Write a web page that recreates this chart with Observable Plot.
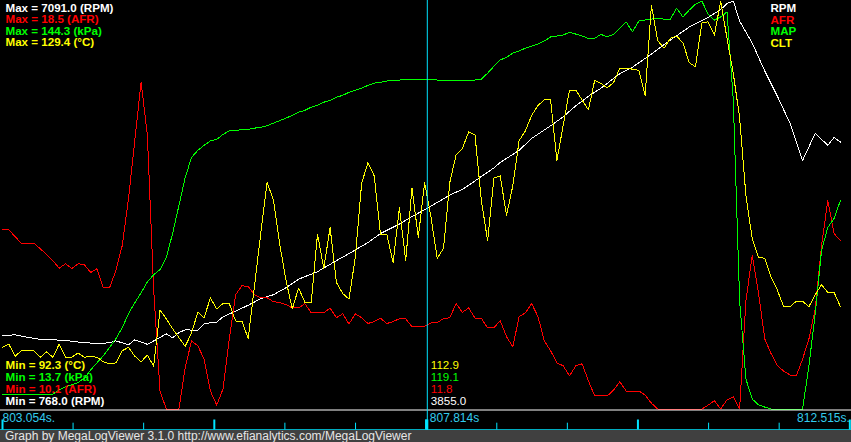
<!DOCTYPE html>
<html><head><meta charset="utf-8">
<script src="https://cdn.jsdelivr.net/npm/d3@7"></script>
<script src="https://cdn.jsdelivr.net/npm/@observablehq/plot@0.6"></script>
<style>
html,body{margin:0;padding:0;background:#000;}
#chart{position:relative;width:851px;height:430px;background:#000;overflow:hidden;}
#chart svg{position:absolute;left:0;top:0;}
#footer{width:851px;height:12px;background:#404040;color:#e6e6e6;font:12px "Liberation Sans",Arial,sans-serif;line-height:12px;padding-left:5px;box-sizing:border-box;white-space:nowrap;overflow:hidden;}
</style></head><body>
<div id="chart"></div>
<div id="footer">Graph by MegaLogViewer 3.1.0 http://www.efianalytics.com/MegaLogViewer</div>
<script>
// ---- series meta ----
const seriesNames  = ["RPM", "AFR", "MAP", "CLT"];
const seriesUnits  = ["RPM", "AFR", "kPa", "°C"];
const seriesColors = ["#ffffff", "#ff0000", "#00ff00", "#ffff00"];
const seriesMin    = [768.0, 10.1, 13.7, 92.3];
const seriesMax    = [7091.0, 18.5, 144.3, 129.4];
const cursorValues = [3855.0, 11.8, 119.1, 112.9];

// ---- time axis ----
const startTime = 803.054, cursorTime = 807.814, endTime = 812.515;
const tickTimes = [803.054, 803.842, 804.630, 805.419, 806.207, 806.996, 807.784,
                   808.573, 809.361, 810.149, 810.938, 811.726, 812.515];

// ---- log samples: [sample #, value] ----
const rpm = [[0,1902],[2,1918],[4,1879],[6,1848],[8,1840],[10,1832],[13,1793],[16,1786],[17,1798],[18,1824],
[20,1762],[21,1840],[23,1770],[25,1876],[26,1933],[27,1871],[28,1953],[29,1995],[31,1988],[32,2089],
[33,2104],[34,2112],[35,2197],[37,2283],[39,2376],[41,2477],[43,2539],[45,2648],[47,2780],[50,2896],
[53,3067],[55,3176],[58,3347],[60,3487],[63,3634],[65,3751],[67,3855],[69,3968],[71,4085],[73,4170],
[75,4302],[76,4372],[78,4504],[79,4590],[81,4714],[82,4776],[84,4963],[87,5157],[89,5297],[91,5468],
[93,5615],[95,5740],[98,5965],[100,6066],[103,6268],[106,6485],[109,6687],[112,6835],[114,6959],[115,7052],
[116,7091],[117,6780],[119,6439],[121,6004],[123,5615],[125,5196],[127,4621],[129,5040],[131,4854],[132,4978],[133,4905]];

const afr = [[0,13.79],[1,13.79],[2,13.65],[3,13.51],[4,13.51],[5,13.51],[6,13.40],[7,13.28],[8,13.15],[9,13.00],
[10,13.09],[11,12.99],[12,13.09],[13,13.07],[14,12.91],[15,12.99],[16,12.60],[17,12.60],[18,12.95],[19,13.46],
[20,14.43],[21,15.63],[22,16.83],[23,15.73],[24,12.54],[25,10.47],[26,10.10],[27,10.10],[28,10.10],[29,10.95],
[30,11.50],[31,11.40],[32,11.13],[33,10.47],[34,10.18],[35,10.51],[36,11.54],[37,12.45],[38,12.64],[39,12.62],
[40,12.45],[41,12.39],[42,12.39],[43,12.31],[44,12.29],[45,12.25],[46,12.18],[47,12.18],[48,12.27],[49,12.08],
[50,12.08],[51,12.08],[52,12.18],[53,11.98],[54,12.06],[55,11.85],[56,12.06],[57,11.98],[58,11.86],[59,11.90],
[60,11.97],[61,11.86],[62,11.90],[63,11.96],[64,11.96],[65,11.79],[66,11.80],[67,11.80],[68,11.87],[69,11.88],
[70,11.96],[71,11.98],[72,12.27],[73,12.09],[74,12.18],[75,11.97],[76,11.97],[77,11.77],[78,11.77],[79,11.92],
[80,11.59],[81,11.38],[82,12.00],[83,12.08],[84,12.27],[85,12.00],[86,11.50],[87,11.30],[88,11.05],[89,10.99],
[90,10.78],[91,10.99],[92,11.03],[93,10.68],[94,10.37],[95,10.37],[96,10.37],[97,10.49],[98,10.66],[99,10.47],
[100,10.47],[101,10.47],[102,10.39],[103,10.22],[104,10.10],[111,10.10],[112,10.18],[113,10.27],[114,10.10],[115,10.29],
[116,10.35],[117,10.10],[118,12.33],[119,13.26],[120,12.49],[121,11.54],[122,11.24],[123,10.99],[124,10.88],[125,10.80],
[126,10.78],[127,11.13],[128,11.54],[129,12.16],[130,13.46],[131,14.39],[132,13.71],[133,13.57]];

const map = [[0,18.5],[8,18.5],[9,19.8],[10,20.8],[11,21.4],[12,22.2],[13,23.6],[14,26.2],[15,28.5],[16,30.7],
[17,33.4],[18,36.2],[19,39.7],[20,44.2],[21,47.7],[22,50.9],[23,54.4],[24,56.7],[25,58.3],[26,62.2],
[27,69.9],[28,78.8],[29,87.8],[30,94.2],[31,96.5],[32,98.1],[33,99.5],[34,100.0],[35,101.6],[36,102.7],
[37,102.9],[38,103.1],[39,103.2],[40,103.6],[41,103.9],[42,104.4],[43,105.2],[44,106.0],[45,106.8],[46,107.7],
[47,108.7],[48,109.3],[49,110.3],[50,110.9],[51,111.9],[52,112.5],[53,113.5],[54,114.1],[55,115.1],[56,115.7],
[57,116.4],[58,117.3],[59,118.0],[60,118.3],[61,118.7],[62,119.0],[63,119.0],[64,119.2],[65,119.2],[66,119.1],
[67,119.1],[68,119.3],[69,119.0],[70,119.0],[71,118.7],[72,118.7],[73,119.0],[74,118.7],[75,119.0],[76,119.3],
[77,121.2],[78,123.4],[79,125.4],[80,126.3],[81,127.6],[82,128.3],[83,129.2],[84,129.9],[85,130.5],[86,131.5],
[87,132.8],[88,133.1],[89,133.4],[90,134.3],[91,133.7],[92,133.1],[93,132.3],[94,132.4],[95,133.6],[96,132.8],
[97,133.7],[98,135.6],[99,137.6],[100,134.4],[101,137.9],[102,138.2],[103,138.5],[104,138.8],[105,138.5],[106,138.5],
[107,142.0],[108,139.2],[109,141.4],[110,143.3],[111,144.3],[112,140.1],[113,138.2],[114,139.2],[115,140.8],[116,112.5],
[117,48.4],[118,23.3],[119,16.9],[120,15.0],[121,14.3],[122,13.7],[127,13.7],[128,27.5],[129,44.2],[130,64.4],
[131,71.8],[132,74.7],[133,80.4]];

const clt = [[0,97.9],[1,98.2],[2,97.1],[3,97.6],[4,97.6],[5,97.6],[6,97.0],[7,97.5],[8,97.0],[9,98.2],
[10,97.0],[11,97.0],[12,97.4],[13,97.0],[14,97.1],[15,97.0],[16,96.6],[17,96.4],[18,96.5],[19,97.6],
[20,97.9],[21,97.1],[22,96.6],[23,97.2],[24,96.2],[25,101.3],[26,100.5],[27,99.6],[28,98.8],[29,98.0],
[30,99.2],[31,101.1],[32,100.6],[33,102.4],[34,101.4],[35,101.9],[36,101.9],[37,100.3],[38,100.3],[39,98.7],
[40,103.5],[41,108.3],[42,112.9],[43,111.3],[44,107.3],[45,104.0],[46,101.4],[47,103.3],[48,102.0],[49,102.0],
[50,108.2],[51,105.1],[52,108.8],[53,103.8],[54,102.8],[55,102.3],[56,106.1],[57,112.8],[58,114.7],[59,113.5],
[60,108.2],[61,108.2],[62,105.6],[63,110.6],[64,105.8],[65,112.4],[66,107.9],[67,112.9],[68,109.8],[69,106.0],
[70,106.9],[71,112.9],[72,115.4],[73,116.0],[74,117.5],[75,117.2],[76,111.3],[77,107.6],[78,113.3],[79,113.5],
[80,109.9],[81,112.6],[82,116.7],[83,117.6],[84,119.0],[85,119.9],[86,120.4],[87,120.4],[88,114.9],[89,118.1],
[90,121.3],[91,121.3],[92,120.4],[93,119.5],[94,122.2],[95,121.9],[96,121.5],[97,122.0],[98,123.3],[99,123.3],
[100,123.2],[101,123.1],[102,120.8],[103,129.0],[104,125.8],[105,125.1],[106,126.0],[107,126.2],[108,125.6],[109,123.8],
[110,123.4],[111,127.4],[112,127.5],[113,126.3],[114,129.4],[115,126.0],[116,122.8],[117,118.8],[118,111.7],[119,107.8],
[120,106.1],[121,106.0],[122,104.3],[123,103.1],[124,101.6],[125,101.6],[126,102.1],[127,102.1],[128,101.6],[129,102.7],
[130,103.6],[131,102.9],[132,102.9],[133,101.6]];

// ---- drawing ----
const W = 851, H = 430;
const FONT = "'Liberation Sans', Arial, sans-serif";
const CYAN = "#00e4ff", TIMECOLOR = "#33ccee";
const sampleDomain = [-0.317, 134.76];
const timeDomain = [803.0317, 812.5336];
const chart = document.getElementById("chart");
const seriesData = [rpm, afr, map, clt];

seriesData.forEach((data, i) => {
  const svg = Plot.plot({
    width: W, height: H, margin: 0,
    style: {background: "transparent", overflow: "visible"},
    x: {domain: sampleDomain, range: [0, W], axis: null},
    y: {domain: [seriesMin[i], seriesMax[i]], range: [408.5, 0.5], clamp: true, axis: null},
    marks: [Plot.line(data, {x: d => d[0], y: d => d[1], stroke: seriesColors[i], strokeWidth: 1, shapeRendering: "crispEdges"})]
  });
  chart.appendChild(svg);
});

// time strip
const strip = Plot.plot({
  width: W, height: 21, margin: 0,
  style: {background: "transparent", overflow: "visible", fontFamily: FONT, fontSize: "12px"},
  x: {domain: timeDomain, range: [0, W], axis: null},
  y: {domain: [0, 1], range: [20.5, 0.5], axis: null},
  marks: [
    Plot.ruleY([1], {stroke: "#ffffff", strokeWidth: 1}),
    Plot.ruleY([0], {stroke: CYAN, strokeWidth: 1.5}),
    Plot.ruleX(tickTimes.filter((d, i) => i % 3 !== 0), {x: d => d, y1: 0, y2: 0.34, stroke: CYAN, strokeWidth: 1}),
    Plot.ruleX(tickTimes.filter((d, i) => i % 3 === 0), {x: d => d, y1: 0, y2: 0.5, stroke: CYAN, strokeWidth: 2}),
    Plot.ruleX([cursorTime], {x: d => d, y1: 0, y2: 0.5, dx: -2, stroke: CYAN, strokeWidth: 3}),
    Plot.text([startTime], {x: d => d, y: 0.39, text: d => d.toFixed(3) + "s.", textAnchor: "start", lineAnchor: "bottom", fill: TIMECOLOR, fontSize: 12}),
    Plot.text([cursorTime], {x: d => d, y: 0.39, dx: 1, text: d => d.toFixed(3) + "s", textAnchor: "start", lineAnchor: "bottom", fill: TIMECOLOR, fontSize: 12}),
    Plot.text([endTime], {x: d => d, y: 0.39, text: d => d.toFixed(3) + "s.", textAnchor: "end", lineAnchor: "bottom", fill: TIMECOLOR, fontSize: 12})
  ]
});
strip.style.top = "409px";
chart.appendChild(strip);

// labels + cursor
const labelMarks = [];
const topBase = [11, 22.5, 34, 45.5];
seriesNames.forEach((name, i) => {
  labelMarks.push(Plot.text([`Max = ${seriesMax[i].toFixed(1)} (${seriesUnits[i]})`], {
    frameAnchor: "top-left", text: d => d, dx: 5, dy: topBase[i], textAnchor: "start", lineAnchor: "bottom",
    fill: seriesColors[i], fontWeight: "bold", fontSize: 11.6}));
  labelMarks.push(Plot.text([name], {
    frameAnchor: "top-left", text: d => d, dx: 770, dy: topBase[i] + 0.5, textAnchor: "start", lineAnchor: "bottom",
    fill: seriesColors[i], fontWeight: "bold", fontSize: 11.6}));
});
const botOrder = [3, 2, 1, 0];
const botBase = [368.5, 380.3, 392.1, 404];
botOrder.forEach((i, j) => {
  labelMarks.push(Plot.text([`Min = ${seriesMin[i].toFixed(1)} (${seriesUnits[i]})`], {
    frameAnchor: "top-left", text: d => d, dx: 5, dy: botBase[j], textAnchor: "start", lineAnchor: "bottom",
    fill: seriesColors[i], fontWeight: "bold", fontSize: 11.6}));
  labelMarks.push(Plot.text([cursorValues[i]], {
    x: cursorTime, frameAnchor: "top", text: d => d.toFixed(1), dx: 2, dy: botBase[j], textAnchor: "start", lineAnchor: "bottom",
    fill: seriesColors[i], fontSize: 11.6}));
});

const overlay = Plot.plot({
  width: W, height: H, margin: 0,
  style: {background: "transparent", overflow: "visible", fontFamily: FONT, fontSize: "12px"},
  x: {domain: timeDomain, range: [0, W], axis: null},
  marks: [
    Plot.ruleX([cursorTime], {x: d => d, dx: -1.5, stroke: CYAN, strokeWidth: 1}),
    ...labelMarks
  ]
});
chart.appendChild(overlay);
</script>
</body></html>
